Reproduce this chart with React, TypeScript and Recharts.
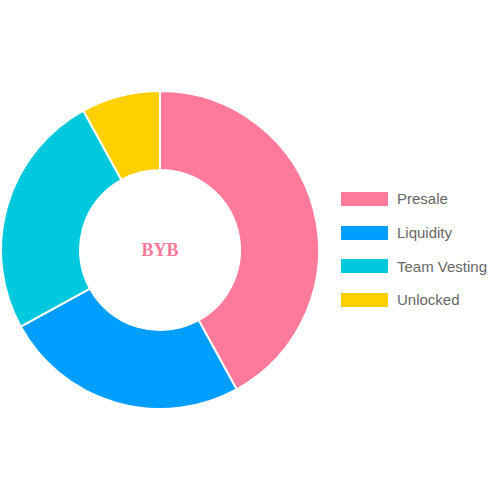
import { PieChart, Pie, Cell, Legend } from "recharts";

const labels = ["Presale", "Liquidity", "Team Vesting", "Unlocked"];
const shares = [42, 25, 25, 8];
const colors = ["#FF7A9A", "#009EFF", "#00C9DD", "#FFD000"];
const centerLabel = "BYB";

const data = labels.map((name, i) => ({ name, value: shares[i] }));

function LegendList() {
  return (
    <div>
      {labels.map((name, i) => (
        <div
          key={name}
          style={{ display: "flex", alignItems: "center", height: 33.7 }}
        >
          <span
            style={{
              display: "inline-block",
              width: 45,
              height: 12,
              background: colors[i],
              border: "1px solid " + colors[i] + "99",
              marginRight: 9,
            }}
          />
          <span
            style={{
              fontFamily: "'Liberation Sans', Arial, sans-serif",
              fontSize: 15,
              color: "#666",
            }}
          >
            {name}
          </span>
        </div>
      ))}
    </div>
  );
}

export default function App() {
  return (
    <div style={{ position: "absolute", left: 0, top: 0, background: "#fff" }}>
      <PieChart width={500} height={500} margin={{ top: 0, right: 0, bottom: 0, left: 0 }}>
        <Pie
          data={data}
          dataKey="value"
          nameKey="name"
          cx={160}
          cy={250}
          innerRadius={80}
          outerRadius={159}
          startAngle={90}
          endAngle={-270}
          stroke="#fff"
          strokeWidth={2}
          isAnimationActive={false}
        >
          {data.map((d, i) => (
            <Cell key={d.name} fill={colors[i]} />
          ))}
        </Pie>
        <text
          x={160}
          y={250}
          textAnchor="middle"
          dominantBaseline="central"
          fill="#FF7A9A"
          fontFamily="'Liberation Serif', 'Times New Roman', serif"
          fontWeight="bold"
          fontSize={18}
        >
          {centerLabel}
        </text>
        <Legend
          content={() => <LegendList />}
          wrapperStyle={{ position: "absolute", left: 341, top: 182, width: 160 }}
        />
      </PieChart>
    </div>
  );
}
